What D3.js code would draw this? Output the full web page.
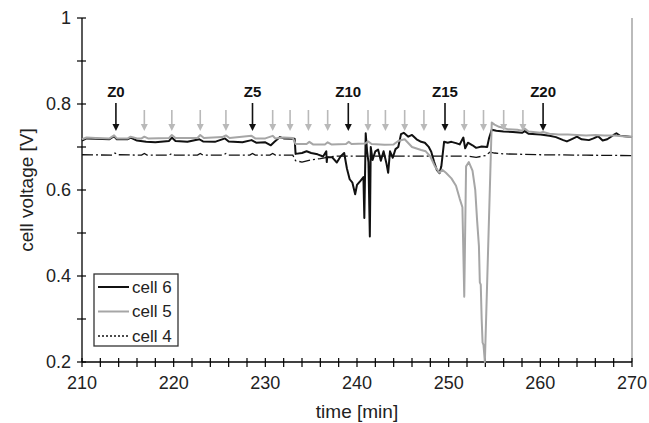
<!DOCTYPE html>
<html>
<head>
<meta charset="utf-8">
<script src="https://cdn.jsdelivr.net/npm/d3@7"></script>
<style>
	body { margin: 0; background: #fff; }
	svg { display: block; font-family: "Liberation Sans", Arial, sans-serif; }
</style>
</head>
<body>
<div id="graphicContainer"></div>
<script>

// [time (min), cell voltage (V)]
var cell6 = [
	[210.0,0.715],[210.5,0.720],[211.5,0.719],[213.0,0.718],[213.5,0.725],[213.8,0.718],[215.0,0.718],[215.3,0.722],
	[216.0,0.715],[217.0,0.712],[218.0,0.711],[219.5,0.714],[219.8,0.722],[220.2,0.714],[221.5,0.712],[222.8,0.718],
	[223.2,0.713],[224.5,0.712],[225.6,0.720],[226.0,0.713],[227.5,0.711],[228.5,0.716],[229.0,0.710],[230.0,0.711],
	[230.6,0.704],[231.0,0.712],[231.6,0.723],[232.0,0.720],[233.0,0.719],[233.2,0.719],[233.3,0.684],[234.0,0.686],
	[234.5,0.690],[235.0,0.686],[235.7,0.683],[236.3,0.678],[236.65,0.690],[236.7,0.665],[236.75,0.677],[237.3,0.676],
	[237.8,0.664],[238.2,0.678],[238.6,0.686],[238.9,0.650],[239.2,0.625],[239.5,0.617],[239.8,0.590],[240.0,0.612],
	[240.4,0.622],[240.7,0.630],[240.8,0.535],[240.95,0.732],[241.1,0.690],[241.25,0.665],[241.4,0.492],[241.5,0.700],
	[241.7,0.670],[242.0,0.690],[242.3,0.694],[242.6,0.668],[242.9,0.690],[243.2,0.663],[243.4,0.640],[243.6,0.690],
	[243.9,0.675],[244.2,0.695],[244.5,0.700],[244.8,0.730],[245.1,0.733],[245.6,0.724],[246.0,0.728],[246.5,0.718],
	[247.0,0.712],[247.4,0.710],[247.8,0.701],[248.1,0.689],[248.4,0.666],[248.7,0.647],[249.0,0.639],[249.2,0.655],
	[249.5,0.712],[249.9,0.710],[250.3,0.712],[250.8,0.709],[251.2,0.706],[251.6,0.722],[251.8,0.697],[252.1,0.710],
	[252.6,0.704],[253.0,0.698],[253.6,0.701],[254.2,0.700],[254.4,0.720],[254.7,0.740],[255.2,0.738],[256.0,0.736],
	[257.0,0.735],[258.0,0.733],[258.3,0.737],[258.7,0.731],[260.0,0.729],[261.0,0.726],[261.7,0.723],[262.5,0.716],
	[262.9,0.713],[263.5,0.719],[264.0,0.724],[264.5,0.718],[265.3,0.716],[265.8,0.720],[266.3,0.725],[266.8,0.715],
	[267.3,0.718],[268.0,0.728],[268.3,0.732],[268.7,0.726],[270.0,0.723]
]

var cell5 = [
	[210.0,0.718],[210.5,0.722],[211.5,0.721],[213.0,0.720],[213.5,0.727],[213.8,0.720],[215.0,0.720],[215.3,0.724],
	[216.0,0.720],[216.5,0.720],[216.8,0.724],[217.2,0.720],[219.5,0.721],[219.8,0.728],[220.2,0.721],[222.6,0.721],
	[222.9,0.728],[223.3,0.721],[225.3,0.723],[225.7,0.727],[226.1,0.721],[228.5,0.726],[228.9,0.720],[230.0,0.720],
	[230.8,0.726],[231.1,0.720],[232.0,0.722],[233.0,0.721],[233.3,0.707],[234.5,0.707],[234.8,0.712],[235.2,0.706],
	[236.5,0.706],[236.8,0.711],[237.2,0.706],[238.8,0.707],[239.1,0.712],[239.4,0.707],[240.9,0.708],[241.2,0.713],
	[241.6,0.707],[243.0,0.705],[244.0,0.706],[244.5,0.714],[245.2,0.718],[246.0,0.700],[247.0,0.693],[247.5,0.690],
	[248.0,0.678],[248.5,0.655],[249.0,0.640],[249.3,0.647],[249.7,0.640],[250.3,0.627],[250.8,0.610],[251.2,0.580],
	[251.5,0.560],[251.7,0.352],[251.9,0.655],[252.2,0.665],[252.6,0.645],[252.9,0.600],[253.1,0.530],[253.3,0.470],
	[253.4,0.385],[253.5,0.380],[253.6,0.300],[253.7,0.245],[253.8,0.240],[253.95,0.200],[254.7,0.757],[255.0,0.752],
	[255.5,0.747],[256.0,0.744],[256.5,0.741],[257.5,0.740],[258.0,0.738],[258.3,0.743],[258.7,0.736],[260.0,0.733],
	[260.3,0.735],[261.0,0.731],[262.0,0.729],[263.0,0.729],[264.0,0.728],[265.0,0.727],[266.0,0.728],[267.0,0.727],
	[268.0,0.727],[269.0,0.725],[270.0,0.723]
]

var cell4 = [
	[210.0,0.682],[213.3,0.681],[213.6,0.686],[213.9,0.682],[216.5,0.681],[216.8,0.685],[217.1,0.681],[219.5,0.681],
	[219.8,0.685],[220.1,0.681],[222.6,0.681],[222.9,0.685],[223.2,0.681],[225.4,0.681],[225.7,0.685],[226.0,0.681],
	[228.3,0.681],[228.6,0.685],[228.9,0.681],[230.5,0.681],[230.8,0.685],[231.1,0.681],[233.0,0.681],[233.3,0.668],
	[234.0,0.665],[235.0,0.670],[236.0,0.673],[237.0,0.677],[238.0,0.679],[244.0,0.679],[248.0,0.679],[252.0,0.679],
	[253.0,0.676],[254.0,0.680],[254.5,0.688],[255.0,0.686],[256.0,0.684],[258.0,0.683],[260.0,0.682],[265.0,0.681],
	[270.0,0.680]
]

var zoneLabels = ["Z0", "Z5", "Z10", "Z15", "Z20"]
var zoneMain = [213.7, 228.6, 239.05, 249.6, 260.3]
var zoneOther = [216.8, 219.8, 222.9, 225.7, 230.8, 232.7, 234.7, 236.8, 241.2, 243.1, 245.2, 247.3, 251.7, 253.8, 256.0, 258.1]

var xTicks = [210, 220, 230, 240, 250, 260, 270]
var yTicks = [0.2, 0.4, 0.6, 0.8, 1]

var legendNames = ["cell 6", "cell 5", "cell 4"]

function init() {

	var width = 649
	var height = 423
	var margin = {top: 18, right: 17, bottom: 61, left: 82}

	var svg = d3.select("#graphicContainer").append("svg")
		.attr("width", width)
		.attr("height", height)

	var x = d3.scaleLinear()
		.domain([210, 270])
		.range([margin.left, width - margin.right])

	var y = d3.scaleLinear()
		.domain([0.2, 1])
		.range([height - margin.bottom, margin.top])

	// right frame line
	svg.append("line")
		.attr("x1", x(270)).attr("x2", x(270))
		.attr("y1", y(1)).attr("y2", y(0.2))
		.attr("stroke", "#a5a5a5")
		.attr("stroke-width", 1.5)

	// y axis, ticks cross the line
	var yAxis = svg.append("g")
		.attr("transform", `translate(${x(210)},0)`)

	yAxis.append("line")
		.attr("y1", y(1)).attr("y2", y(0.2))
		.attr("stroke", "#000")
		.attr("stroke-width", 1.3)

	yAxis.selectAll(".ytick")
		.data(d3.range(0.2, 1.01, 0.1))
		.join("line")
		.attr("class", "ytick")
		.attr("x1", -5).attr("x2", 4)
		.attr("y1", d => y(d)).attr("y2", d => y(d))
		.attr("stroke", "#000")
		.attr("stroke-width", 1.2)

	yAxis.selectAll(".ylabel")
		.data(yTicks)
		.join("text")
		.attr("class", "ylabel")
		.attr("x", -11)
		.attr("y", d => y(d))
		.attr("dy", "0.35em")
		.attr("text-anchor", "end")
		.attr("font-size", 18)
		.attr("fill", "#222")
		.text(d => d3.format("~g")(d))

	// x axis
	var xAxis = svg.append("g")
		.attr("transform", `translate(0,${y(0.2)})`)

	xAxis.append("line")
		.attr("x1", x(210)).attr("x2", x(270))
		.attr("stroke", "#000")
		.attr("stroke-width", 1.3)

	xAxis.selectAll(".xtick")
		.data(d3.range(210, 271, 2))
		.join("line")
		.attr("class", "xtick")
		.attr("x1", d => x(d)).attr("x2", d => x(d))
		.attr("y1", -4).attr("y2", 5)
		.attr("stroke", "#000")
		.attr("stroke-width", 1.2)

	xAxis.selectAll(".xlabel")
		.data(xTicks)
		.join("text")
		.attr("class", "xlabel")
		.attr("x", d => x(d))
		.attr("y", 27)
		.attr("text-anchor", "middle")
		.attr("font-size", 18)
		.attr("fill", "#222")
		.text(d => d)

	svg.append("text")
		.attr("x", (x(210) + x(270)) / 2)
		.attr("y", 418)
		.attr("text-anchor", "middle")
		.attr("font-size", 19)
		.attr("fill", "#222")
		.text("time [min]")

	svg.append("text")
		.attr("transform", `translate(33,${(y(1) + y(0.2)) / 2}) rotate(-90)`)
		.attr("text-anchor", "middle")
		.attr("font-size", 19)
		.attr("fill", "#222")
		.text("cell voltage [V]")

	var line = d3.line()
		.x(d => x(d[0]))
		.y(d => y(d[1]))

	svg.append("path")
		.datum(cell4)
		.attr("fill", "none")
		.attr("stroke", "#111")
		.attr("stroke-width", 1.3)
		.attr("stroke-dasharray", "11,3,2,3")
		.attr("d", line)

	svg.append("path")
		.datum(cell6)
		.attr("fill", "none")
		.attr("stroke", "#111")
		.attr("stroke-width", 2)
		.attr("stroke-linejoin", "round")
		.attr("d", line)

	svg.append("path")
		.datum(cell5)
		.attr("fill", "none")
		.attr("stroke", "#a6a6a6")
		.attr("stroke-width", 2)
		.attr("stroke-linejoin", "round")
		.attr("d", line)

	// zone arrows
	function arrow(g, top, colour) {
		g.append("line")
			.attr("y1", top).attr("y2", 125)
			.attr("stroke", colour)
			.attr("stroke-width", 1.6)
		g.append("path")
			.attr("d", "M-3.5,124L3.5,124L0,131Z")
			.attr("fill", colour)
	}

	svg.selectAll(".grayArrow")
		.data(zoneOther)
		.join("g")
		.attr("class", "grayArrow")
		.attr("transform", d => `translate(${x(d)},0)`)
		.each(function() { arrow(d3.select(this), 110, "#b9b9b9") })

	var mainArrows = svg.selectAll(".mainArrow")
		.data(zoneMain)
		.join("g")
		.attr("class", "mainArrow")
		.attr("transform", d => `translate(${x(d)},0)`)
		.each(function() { arrow(d3.select(this), 103, "#111") })

	mainArrows.append("text")
		.attr("y", 97)
		.attr("text-anchor", "middle")
		.attr("font-size", 15)
		.attr("font-weight", "bold")
		.attr("fill", "#111")
		.text((d, i) => zoneLabels[i])

	// legend
	var legend = svg.append("g")
		.attr("transform", "translate(94,274)")

	legend.append("rect")
		.attr("width", 84)
		.attr("height", 72)
		.attr("fill", "#fff")
		.attr("stroke", "#333")
		.attr("stroke-width", 1.3)

	var styles = [
		{stroke: "#111", width: 2, dash: null},
		{stroke: "#a6a6a6", width: 2, dash: null},
		{stroke: "#111", width: 1.3, dash: "2,2"}
	]

	var items = legend.selectAll(".item")
		.data(legendNames)
		.join("g")
		.attr("class", "item")
		.attr("transform", (d, i) => `translate(0,${13 + i * 24.5})`)

	items.append("line")
		.attr("x1", 4).attr("x2", 35)
		.attr("stroke", (d, i) => styles[i].stroke)
		.attr("stroke-width", (d, i) => styles[i].width)
		.attr("stroke-dasharray", (d, i) => styles[i].dash)

	items.append("text")
		.attr("x", 38)
		.attr("dy", "0.35em")
		.attr("font-size", 17)
		.attr("fill", "#222")
		.text(d => d)

} // end init

init()

</script>
</body>
</html>
